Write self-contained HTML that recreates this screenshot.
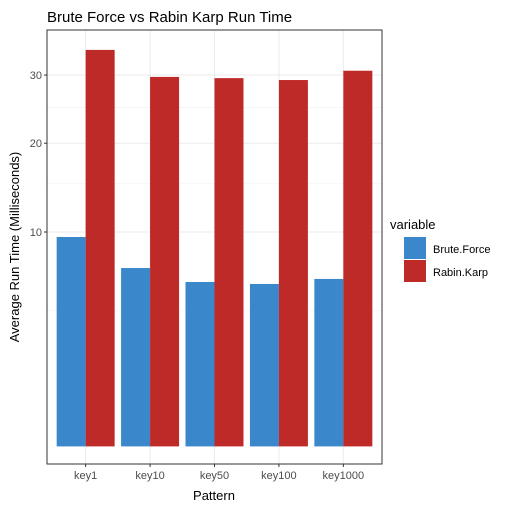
<!DOCTYPE html>
<html><head><meta charset="utf-8"><style>
body{margin:0;background:#fff;font-family:"Liberation Sans",Arial,sans-serif}
</style></head><body>
<svg width="512" height="511" xmlns="http://www.w3.org/2000/svg">
<rect width="512" height="511" fill="#fff"/>
<text x="47" y="22" font-size="15" fill="#000">Brute Force vs Rabin Karp Run Time</text>
<g id="panel"></g>
<text x="214" y="500" font-size="13" text-anchor="middle">Pattern</text>
<text transform="translate(19,247) rotate(-90)" font-size="13" text-anchor="middle">Average Run Time (Milliseconds)</text>
<g>
<text x="390" y="229" font-size="13">variable</text>
<g><rect x="404" y="237" width="22" height="22" fill="#3A87CB"/><text x="433" y="253" font-size="11" fill="#000">Brute.Force</text></g>
<g><rect x="404" y="260" width="22" height="22" fill="#BE2A28"/><text x="433" y="276" font-size="11" fill="#000">Rabin.Karp</text></g>
</g>
</svg>
<script>
const categories=["key1","key10","key50","key100","key1000"];
const bruteForce=[9.54,6.92,5.88,5.74,6.1];
const rabinKarp=[34.2,29.7,29.5,29.2,30.7];
const yTicks=[10,20,30];
const yMinor=[15,25,4];
const NS="http://www.w3.org/2000/svg";
const L=47,R=382,T=30,B=464;
const y=v=>446.4-67.8*Math.sqrt(v);
const step=(R-L)/(categories.length+0.2);
const x=i=>L+step*(i+0.6);
const g=document.getElementById('panel');
function mk(tag,attrs,parent){const e=document.createElementNS(NS,tag);for(const k in attrs)e.setAttribute(k,attrs[k]);(parent||g).appendChild(e);return e;}
yMinor.forEach(v=>{const l=mk('line',{x1:L,x2:R,y1:y(v),y2:y(v),stroke:'#f2f2f2','stroke-width':0.6});

});
yTicks.forEach(v=>{const l=mk('line',{x1:L,x2:R,y1:y(v),y2:y(v),stroke:'#ebebeb','stroke-width':1});


const tk=mk('line',{x1:L-3,x2:L,y1:y(v),y2:y(v),stroke:'#333'});


const t=mk('text',{x:L-5,y:y(v)+4,'font-size':11,'text-anchor':'end',fill:'#4d4d4d'});t.textContent=v;

});
categories.forEach((c,i)=>{const l=mk('line',{x1:x(i),x2:x(i),y1:T,y2:B,stroke:'#ebebeb'});

});
const bw=step*0.9/2;
categories.forEach((c,i)=>{
const b1=mk('rect',{x:x(i)-bw,y:y(bruteForce[i]),width:bw,height:y(0)-y(bruteForce[i]),fill:'#3A87CB'});


const b2=mk('rect',{x:x(i),y:y(rabinKarp[i]),width:bw,height:y(0)-y(rabinKarp[i]),fill:'#BE2A28'});


const tk=mk('line',{x1:x(i),x2:x(i),y1:B,y2:B+3,stroke:'#333'});


const t=mk('text',{x:x(i),y:B+15,'font-size':11,'text-anchor':'middle',fill:'#4d4d4d'});t.textContent=c;

});
const fr=mk('rect',{x:L,y:T,width:R-L,height:B-T,fill:'none',stroke:'#333','stroke-width':1});


</script>
</body></html>
